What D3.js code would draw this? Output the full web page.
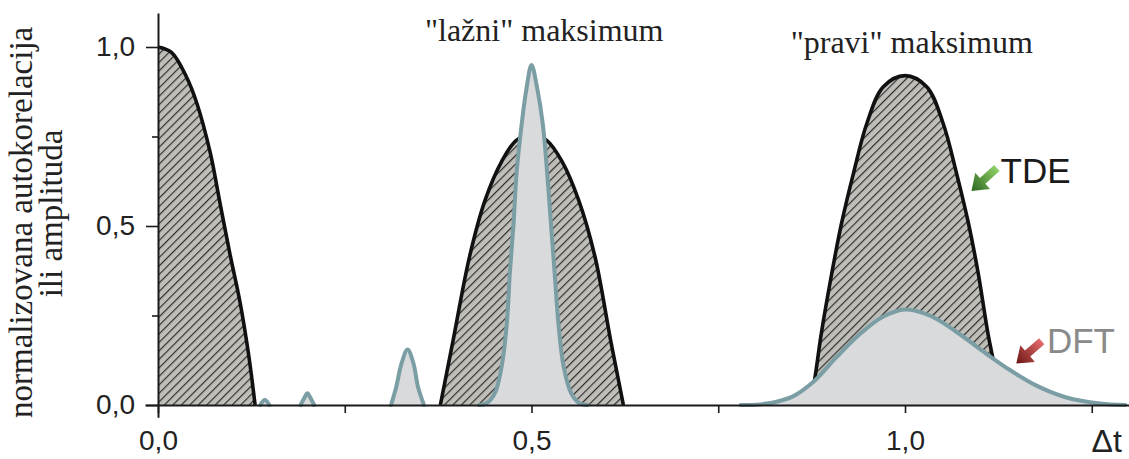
<!DOCTYPE html>
<html>
<head>
<meta charset="utf-8">
<script src="https://cdnjs.cloudflare.com/ajax/libs/d3/7.8.5/d3.min.js"></script>
<style>
	body{margin:0;background:#fff;}
	.sans{font-family:"Liberation Sans",Arial,sans-serif;}
	.serif{font-family:"Liberation Serif","Times New Roman",serif;}
</style>
</head>
<body>
<div id="chart"></div>
<script>
// TDE (autokorelacija) - three lobes, [delta t, value]
var tdePeak1 = [[0,1],[0.018,0.985],[0.038,0.917],[0.052,0.843],[0.07,0.704],[0.083,0.564],[0.096,0.425],[0.11,0.285],[0.121,0.145],[0.13,0]];
var tdePeak2 = [[0.378,0],[0.395,0.18],[0.417,0.414],[0.438,0.573],[0.46,0.68],[0.48,0.74],[0.5,0.755],[0.52,0.74],[0.541,0.68],[0.563,0.573],[0.585,0.414],[0.606,0.18],[0.623,0]];
var tdePeak3 = [[0.873,0],[0.879,0.07],[0.888,0.2],[0.902,0.368],[0.915,0.507],[0.931,0.647],[0.949,0.787],[0.971,0.889],[1.0,0.92],[1.029,0.889],[1.051,0.787],[1.069,0.647],[1.085,0.507],[1.098,0.368],[1.111,0.2],[1.118,0.126],[1.128,0]];

// DFT (amplituda)
var dftBump1 = [[0.137,0],[0.143,0.014],[0.149,0]];
var dftBump2 = [[0.191,0],[0.196,0.02],[0.2,0.033],[0.204,0.02],[0.209,0]];
var dftBump3 = [[0.312,0],[0.319,0.051],[0.326,0.116],[0.334,0.155],[0.342,0.116],[0.348,0.051],[0.356,0]];
var dftPeak2 = [[0.43,0],[0.44,0.005],[0.451,0.033],[0.46,0.107],[0.467,0.228],[0.471,0.368],[0.476,0.507],[0.48,0.647],[0.487,0.787],[0.493,0.88],[0.5,0.95],[0.508,0.88],[0.515,0.787],[0.521,0.647],[0.526,0.507],[0.531,0.368],[0.536,0.228],[0.543,0.107],[0.553,0.033],[0.564,0.005],[0.575,0]];
var dftPeak3 = [[0.78,0],[0.80,0.001],[0.824,0.007],[0.85,0.024],[0.877,0.064],[0.908,0.133],[0.94,0.199],[0.971,0.247],[1.0,0.267],[1.033,0.25],[1.069,0.204],[1.105,0.149],[1.141,0.097],[1.176,0.054],[1.216,0.021],[1.261,0.004],[1.295,0]];

var yTicks = [0,0.5,1];
var yTickLabels = ["0,0","0,5","1,0"];
var yMinorTicks = [0.25,0.75];
var xTicks = [0,0.25,0.5,0.75,1,1.25];
var xTickLabels = ["0,0","","0,5","","1,0",""];
var yTitle = ["normalizovana autokorelacija","ili amplituda"];
var notes = [{text:'"lažni" maksimum',x:0.517,y:1.016},{text:'"pravi" maksimum',x:1.009,y:0.983}];

var width = 1129, height = 459;

var svg = d3.select("#chart")
	.append('svg')
	.attr('width',width)
	.attr('height',height);

var x = d3.scaleLinear().domain([0,1]).range([158,905]);
var y = d3.scaleLinear().domain([0,1]).range([405,47]);

var defs = svg.append('defs');
var pat = defs.append('pattern')
	.attr('id','hatch')
	.attr('patternUnits','userSpaceOnUse')
	.attr('width',6)
	.attr('height',6)
	.attr('patternTransform','rotate(45)');
pat.append('rect').attr('width',6).attr('height',6).attr('fill','#c0beb8');
pat.append('line').attr('x1',0.6).attr('y1',0).attr('x2',0.6).attr('y2',6)
	.attr('stroke','#2a2a2a').attr('stroke-width',1.15);

function grad(id,c1,c2){
	var g = defs.append('linearGradient').attr('id',id)
		.attr('x1',0).attr('y1',0).attr('x2',1).attr('y2',0);
	g.append('stop').attr('offset','0%').attr('stop-color',c1);
	g.append('stop').attr('offset','100%').attr('stop-color',c2);
}
grad('gGreen','#8fd066','#2c6620');
grad('gRed','#e46a6a','#6a1414');

var curve = d3.curveCatmullRom.alpha(0.5);
var area = d3.area()
	.x(function(d){return x(d[0])})
	.y0(y(0))
	.y1(function(d){return y(d[1])})
	.curve(curve);
var line = d3.line()
	.x(function(d){return x(d[0])})
	.y(function(d){return y(d[1])})
	.curve(curve);

var tde = [tdePeak1,tdePeak2,tdePeak3];
var dft = [dftBump1,dftBump2,dftBump3,dftPeak2,dftPeak3];

svg.selectAll('.tdeArea').data(tde).enter().append('path')
	.attr('class','tdeArea')
	.attr('d',area)
	.attr('fill','url(#hatch)');
svg.selectAll('.tdeLine').data(tde).enter().append('path')
	.attr('class','tdeLine')
	.attr('d',line)
	.attr('fill','none')
	.attr('stroke','#111')
	.attr('stroke-width',3.6);

svg.selectAll('.dftArea').data(dft).enter().append('path')
	.attr('class','dftArea')
	.attr('d',area)
	.attr('fill','#d9dadc');
svg.selectAll('.dftLine').data(dft).enter().append('path')
	.attr('class','dftLine')
	.attr('d',line)
	.attr('fill','none')
	.attr('stroke','#7b9ea5')
	.attr('stroke-width',4)
	.attr('stroke-linejoin','round')
	.attr('stroke-linecap','round');

// axes, domain stretched a bit past the data
var xAxisScale = d3.scaleLinear().domain([-0.0174,1.3]).range([x(-0.0174),x(1.3)]);
var yAxisScale = d3.scaleLinear().domain([-0.034,1.095]).range([y(-0.034),y(1.095)]);

svg.append('g')
	.attr('transform','translate(0,'+y(0)+')')
	.call(d3.axisBottom(xAxisScale)
		.tickValues(xTicks)
		.tickSize(8)
		.tickSizeOuter(0)
		.tickPadding(17)
		.tickFormat(function(d,i){return xTickLabels[i]}));

svg.append('g')
	.attr('transform','translate('+x(0)+',0)')
	.call(d3.axisLeft(yAxisScale)
		.tickValues(yTicks)
		.tickSize(12)
		.tickSizeOuter(0)
		.tickPadding(11)
		.tickFormat(function(d,i){return yTickLabels[i]}));
svg.append('g')
	.attr('transform','translate('+x(0)+',0)')
	.call(d3.axisLeft(yAxisScale)
		.tickValues(yMinorTicks)
		.tickSize(6)
		.tickSizeOuter(0)
		.tickFormat(''))
	.select('.domain').remove();

svg.selectAll('.domain').attr('stroke','#1a1a1a').attr('stroke-width',2);
svg.selectAll('.tick line').attr('stroke','#1a1a1a').attr('stroke-width',1.6);
svg.selectAll('.tick text')
	.attr('class','sans')
	.attr('font-size',28)
	.attr('fill','#222');

svg.append('text')
	.attr('class','sans')
	.attr('x',x(1.27))
	.attr('y',452)
	.attr('text-anchor','middle')
	.attr('font-size',32)
	.attr('fill','#222')
	.text('\u0394t');

// y title, two rotated lines
svg.append('text')
	.attr('class','serif')
	.attr('transform','translate(32,'+y(0.51)+') rotate(-90)')
	.attr('text-anchor','middle')
	.attr('font-size',33)
	.attr('fill','#222')
	.text(yTitle[0]);
svg.append('text')
	.attr('class','serif')
	.attr('transform','translate(62,'+y(0.535)+') rotate(-90)')
	.attr('text-anchor','middle')
	.attr('font-size',33)
	.attr('fill','#222')
	.text(yTitle[1]);

svg.selectAll('.note').data(notes).enter().append('text')
	.attr('class','note serif')
	.attr('x',function(d){return x(d.x)})
	.attr('y',function(d){return y(d.y)})
	.attr('text-anchor','middle')
	.attr('font-size',32)
	.attr('fill','#222')
	.text(function(d){return d.text});

function arrow(tail,head,fill){
	var x1 = x(tail[0]), y1 = y(tail[1]), x2 = x(head[0]), y2 = y(head[1]);
	var L = Math.sqrt((x2-x1)*(x2-x1)+(y2-y1)*(y2-y1));
	var a = Math.atan2(y2-y1,x2-x1)*180/Math.PI;
	var hl = 15, sw = 4, hw = 11;
	var pts = [[0,-sw],[L-hl,-sw],[L-hl,-hw],[L,0],[L-hl,hw],[L-hl,sw],[0,sw]];
	svg.append('path')
		.attr('d','M'+pts.join('L')+'Z')
		.attr('fill',fill)
		.attr('transform','translate('+x1+','+y1+') rotate('+a+')');
}
arrow([1.123,0.662],[1.089,0.598],'url(#gGreen)');
arrow([1.183,0.178],[1.149,0.116],'url(#gRed)');

svg.append('text')
	.attr('class','sans')
	.attr('x',x(1.128))
	.attr('y',y(0.62))
	.attr('font-size',35)
	.attr('fill','#1a1a1a')
	.text('TDE');
svg.append('text')
	.attr('class','sans')
	.attr('x',x(1.19))
	.attr('y',y(0.145))
	.attr('font-size',35)
	.attr('fill','#8a8a8a')
	.text('DFT');
</script>
</body>
</html>
